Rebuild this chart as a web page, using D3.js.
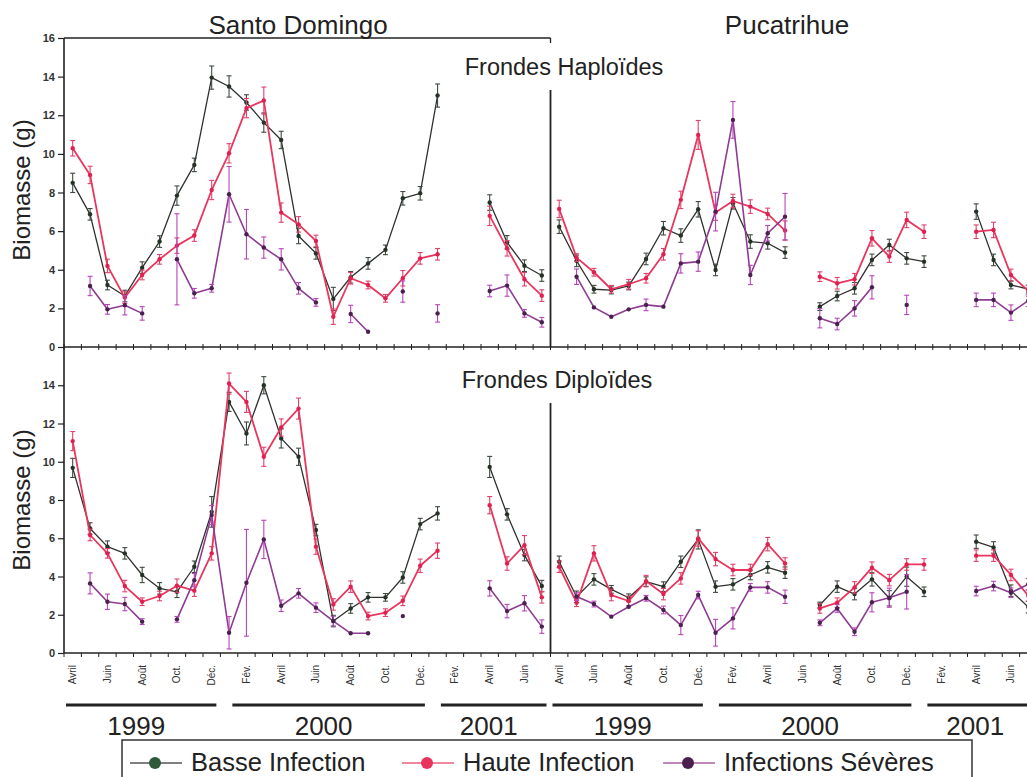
<!DOCTYPE html>
<html>
<head>
<meta charset="utf-8">
<script src="https://cdn.jsdelivr.net/npm/d3@7"></script>
<style>
  body { margin: 0; background: #fff; }
  svg { display: block; }
  text { font-family: "Liberation Sans", Arial, Helvetica, sans-serif; }
</style>
</head>
<body>
<svg id="chart" width="1027" height="777"></svg>
<script>
// ---- Sampling months (Avril 1999 -> Juillet 2001), one per category ----
const months = ["Avril","Mai","Juin","Juil.","Août","Sept.","Oct.","Nov.","Déc.","Janv.","Fév.","Mars",
                "Avril","Mai","Juin","Juil.","Août","Sept.","Oct.","Nov.","Déc.","Janv.","Fév.","Mars",
                "Avril","Mai","Juin","Juil."];
const labelEvery = 2;
const sites = ["Santo Domingo", "Pucatrihue"];
const frondTypes = ["Frondes Haploïdes", "Frondes Diploïdes"];
const seriesNames = ["Basse Infection", "Haute Infection", "Infections Sévères"];
const yearNames = ["1999", "2000", "2001"];
const yearFirstMonth = [0, 9, 21];
const yearLastMonth = [8, 20, 27];
const yTicksTop = [0, 2, 4, 6, 8, 10, 12, 14, 16];
const yTicksBottom = [0, 2, 4, 6, 8, 10, 12, 14];

// ---- Biomass (g), mean and error, Santo Domingo, haploid fronds ----
const sdHapBasse    = [8.5,6.87,3.21,2.64,4.11,5.46,7.84,9.43,13.95,13.49,12.66,11.62,10.72,5.75,4.85,2.49,3.61,4.33,5.03,7.70,7.96,13.02,null,null,7.48,5.42,4.21,3.70];
const sdHapBasseErr = [0.5,0.3,0.25,0.3,0.3,0.3,0.5,0.35,0.6,0.55,0.4,0.5,0.45,0.4,0.3,0.6,0.3,0.3,0.25,0.35,0.35,0.6,null,null,0.4,0.35,0.3,0.3];
const sdHapHaute    = [10.29,8.91,4.2,2.56,3.73,4.54,5.25,5.77,8.13,10.03,12.37,12.76,6.96,6.35,5.49,1.57,3.56,3.21,2.52,3.56,4.59,4.80,null,null,6.79,5.11,3.51,2.66];
const sdHapHauteErr = [0.4,0.45,0.35,0.3,0.25,0.25,0.4,0.3,0.5,0.5,0.5,0.7,0.5,0.4,0.3,0.4,0.3,0.2,0.2,0.4,0.3,0.3,null,null,0.5,0.4,0.35,0.3];
const sdHapSev      = [null,3.16,1.95,2.16,1.74,null,4.54,2.78,3.04,7.91,5.84,5.15,4.54,3.04,2.31,null,1.71,0.79,null,2.87,null,1.74,null,null,2.9,3.18,1.74,1.28];
const sdHapSevErr   = [null,0.5,0.25,0.5,0.35,null,2.36,0.25,0.2,1.44,1.28,0.55,0.55,0.3,0.2,null,0.45,0,null,0.55,null,0.45,null,null,0.3,0.55,0.2,0.25];

// ---- Pucatrihue, haploid fronds ----
const pucHapBasse    = [6.23,4.46,2.99,2.95,3.16,4.56,6.15,5.77,7.13,3.99,7.44,5.46,5.37,4.89,null,2.09,2.64,3.04,4.51,5.28,4.59,4.42,null,null,7.01,4.51,3.21,3.0];
const pucHapBasseErr = [0.35,0.3,0.2,0.2,0.2,0.3,0.35,0.35,0.4,0.3,0.3,0.35,0.3,0.3,null,0.2,0.25,0.3,0.3,0.3,0.3,0.3,null,null,0.4,0.3,0.2,0.2];
const pucHapHaute    = [7.15,4.63,3.87,2.99,3.25,3.56,4.80,7.62,10.98,6.96,7.56,7.27,6.89,6.03,null,3.64,3.30,3.51,5.63,4.68,6.58,5.97,null,null,5.97,6.06,3.73,2.9];
const pucHapHauteErr = [0.45,0.2,0.2,0.2,0.25,0.25,0.3,0.45,0.75,0.4,0.35,0.35,0.3,0.5,null,0.25,0.3,0.3,0.4,0.3,0.4,0.35,null,null,0.35,0.4,0.3,0.3];
const pucHapSev      = [null,3.64,2.05,1.57,1.95,2.18,2.09,4.33,4.42,7.01,11.76,3.73,5.89,6.75,null,1.49,1.19,2.0,3.09,null,2.18,null,null,null,2.44,2.44,1.78,2.4];
const pucHapSevErr   = [null,0.4,0,0,0,0.3,0,0.5,0.5,1.0,0.95,0.5,0.4,1.2,null,0.5,0.3,0.4,0.6,null,0.5,null,null,null,0.35,0.35,0.4,0.3];

// ---- Santo Domingo, diploid fronds ----
const sdDipBasse    = [9.68,6.51,5.56,5.21,4.08,3.38,3.2,4.51,7.38,13.13,11.48,14.0,11.22,10.26,6.43,1.67,2.33,2.91,2.91,3.95,6.74,7.30,null,null,9.73,7.25,5.12,3.50];
const sdDipBasseErr = [0.5,0.3,0.3,0.3,0.4,0.3,0.3,0.3,0.8,0.5,0.6,0.45,0.5,0.45,0.3,0.3,0.25,0.25,0.2,0.3,0.3,0.35,null,null,0.55,0.3,0.3,0.3];
const sdDipHaute    = [11.08,6.17,5.21,3.50,2.68,2.98,3.52,3.26,5.21,14.09,13.13,10.26,11.79,12.78,5.56,2.54,3.47,1.93,2.11,2.73,4.56,5.35,null,null,7.73,4.68,5.64,2.91];
const sdDipHauteErr = [0.5,0.3,0.25,0.3,0.2,0.25,0.35,0.3,0.35,0.55,0.55,0.5,0.45,0.55,0.4,0.3,0.3,0.2,0.2,0.25,0.35,0.4,null,null,0.45,0.35,0.5,0.3];
const sdDipSev      = [null,3.64,2.68,2.56,1.64,null,1.76,3.81,7.21,1.06,3.67,5.94,2.47,3.12,2.37,1.67,1.03,1.03,null,1.93,null,null,null,null,3.38,2.19,2.6,1.38];
const sdDipSevErr   = [null,0.55,0.4,0.35,0.15,null,0.15,0.35,0.5,0.85,2.79,1.0,0.3,0.25,0.25,0.25,0,0,null,0,null,null,null,null,0.4,0.35,0.4,0.35];

// ---- Pucatrihue, diploid fronds ----
const pucDipBasse    = [4.77,2.94,3.85,3.33,2.89,3.73,3.47,4.77,5.94,3.47,3.59,4.08,4.48,4.2,null,2.51,3.47,3.08,3.85,2.86,3.99,3.2,null,null,5.82,5.52,3.26,2.4];
const pucDipBasseErr = [0.3,0.3,0.3,0.2,0.2,0.25,0.25,0.3,0.5,0.3,0.3,0.25,0.3,0.3,null,0.15,0.3,0.3,0.35,0.4,0.5,0.25,null,null,0.35,0.3,0.3,0.3];
const pucDipHaute    = [4.51,2.63,5.21,3.03,2.72,3.76,3.08,3.90,5.99,4.91,4.34,4.34,5.69,4.68,null,2.33,2.63,3.43,4.46,3.81,4.63,4.63,null,null,5.09,5.09,4.08,3.0];
const pucDipHauteErr = [0.3,0.2,0.4,0.3,0.25,0.3,0.3,0.3,0.4,0.35,0.3,0.3,0.35,0.3,null,0.25,0.25,0.3,0.3,0.3,0.3,0.3,null,null,0.3,0.3,0.3,0.3];
const pucDipSev      = [null,2.95,2.56,1.90,2.42,2.86,2.25,1.46,3.03,1.06,1.81,3.43,3.43,2.94,null,1.58,2.33,1.11,2.65,2.89,3.2,null,null,null,3.24,3.5,3.15,3.6];
const pucDipSevErr   = [null,0.2,0.15,0,0,0.15,0.2,0.5,0.2,0.7,0.55,0.2,0.3,0.35,null,0.15,0.2,0.2,0.5,0.5,0.9,null,null,null,0.25,0.25,0.25,0.3];

// ---- Series styling ----
const styles = [
  { line: "#2f312f", err: "#3d4a3f", dot: "#253326", width: 1.3, legendLine: "#555", legendDot: "#2e5a3a" },
  { line: "#e8365e", err: "#e0406a", dot: "#e0204f", width: 1.8, legendLine: "#e8607e", legendDot: "#e8335c" },
  { line: "#8e3c92", err: "#b845b8", dot: "#4a2050", width: 1.6, legendLine: "#a860a8", legendDot: "#4a1f50" }
];

const svg = d3.select("#chart");
svg.append("rect").attr("width", 1027).attr("height", 777).attr("fill", "#fff");

const nMonths = months.length;
const x = d3.scaleBand().domain(d3.range(nMonths * sites.length)).range([64, 1037]);
const cx = i => x(i) + x.bandwidth() / 2;
const yScales = [
  d3.scaleLinear().domain([0, 16]).range([347, 38]),
  d3.scaleLinear().domain([0, 16]).range([653, 347])
];
const axisColor = "#222";

// ---- Frame lines ----
const frame = svg.append("g").attr("stroke", axisColor).attr("fill", "none");
frame.append("line").attr("x1", 64).attr("x2", 64).attr("y1", 38).attr("y2", 653).attr("stroke-width", 1.6);
frame.append("line").attr("x1", 64).attr("x2", 1027).attr("y1", 347).attr("y2", 347).attr("stroke-width", 1.6);
frame.append("line").attr("x1", 64).attr("x2", 1027).attr("y1", 653).attr("y2", 653).attr("stroke-width", 1.6);
frame.append("line").attr("x1", 64).attr("x2", x(nMonths)).attr("y1", 38).attr("y2", 38).attr("stroke-width", 1.3);
frame.append("line").attr("x1", x(nMonths)).attr("x2", x(nMonths)).attr("y1", 38).attr("y2", 43).attr("stroke-width", 1.3);
// second site's vertical axis in each panel
frame.append("line").attr("x1", x(nMonths)).attr("x2", x(nMonths)).attr("y1", 90).attr("y2", 347).attr("stroke-width", 1.8);
frame.append("line").attr("x1", x(nMonths)).attr("x2", x(nMonths)).attr("y1", 403).attr("y2", 653).attr("stroke-width", 1.8);

// ---- Category tick marks ----
const catEdges = d3.range(nMonths * sites.length + 1).map(i => i < nMonths * sites.length ? x(i) : x.range()[1]);
svg.append("g").selectAll("line").data(catEdges).join("line")
  .attr("x1", d => d).attr("x2", d => d).attr("y1", 653).attr("y2", 657)
  .attr("stroke", axisColor).attr("stroke-width", 1);
svg.append("g").selectAll("line").data(catEdges).join("line")
  .attr("x1", d => d).attr("x2", d => d).attr("y1", 344).attr("y2", 350)
  .attr("stroke", axisColor).attr("stroke-width", 1);

// ---- Y axes ----
[yTicksTop, yTicksBottom].forEach((ticks, p) => {
  const g = svg.append("g").attr("transform", "translate(64,0)")
    .call(d3.axisLeft(yScales[p]).tickValues(ticks).tickSize(6).tickSizeOuter(0).tickPadding(3).tickFormat(d3.format("d")));
  g.select(".domain").remove();
  g.selectAll(".tick line").attr("stroke", axisColor).attr("stroke-width", 1.2);
  g.selectAll(".tick text").attr("font-size", 11).attr("font-weight", "bold").attr("fill", "#333")
    .attr("font-family", "'Liberation Sans', Arial, sans-serif");
});

// ---- Month labels ----
const monthTicks = d3.range(nMonths * sites.length).filter(i => (i % nMonths) % labelEvery === 0);
svg.append("g").selectAll("text").data(monthTicks).join("text")
  .attr("transform", i => `translate(${cx(i) + 3.5},665) rotate(-90)`)
  .attr("text-anchor", "end").attr("font-size", 10).attr("fill", "#333")
  .text(i => months[i % nMonths]);

// ---- Year bars and labels ----
sites.forEach((site, s) => {
  yearNames.forEach((yr, k) => {
    const a = x(s * nMonths + yearFirstMonth[k]) + (k === 0 ? 2 : 12);
    const b = x(s * nMonths + yearLastMonth[k]) + x.bandwidth() - 4;
    svg.append("line").attr("x1", a).attr("x2", b).attr("y1", 705).attr("y2", 705)
      .attr("stroke", "#222").attr("stroke-width", 3.2);
    svg.append("text").attr("x", (a + b) / 2 - 5).attr("y", 735).attr("text-anchor", "middle")
      .attr("font-size", 26).attr("fill", "#222").text(yr);
  });
});

// ---- Titles ----
svg.append("text").attr("x", 298).attr("y", 34).attr("text-anchor", "middle").attr("font-size", 26).attr("fill", "#222").text(sites[0]);
svg.append("text").attr("x", 787).attr("y", 34).attr("text-anchor", "middle").attr("font-size", 26).attr("fill", "#222").text(sites[1]);
svg.append("text").attr("x", 564).attr("y", 75).attr("text-anchor", "middle").attr("font-size", 23.5).attr("fill", "#222").text(frondTypes[0]);
svg.append("text").attr("x", 557).attr("y", 388).attr("text-anchor", "middle").attr("font-size", 23.5).attr("fill", "#222").text(frondTypes[1]);
[190, 500].forEach(cy => {
  svg.append("text").attr("transform", `translate(30,${cy}) rotate(-90)`).attr("text-anchor", "middle")
    .attr("font-size", 24).attr("fill", "#222").text("Biomasse (g)");
});

// ---- Data series ----
const panelData = [
  [ [[sdHapBasse, sdHapBasseErr], [sdHapHaute, sdHapHauteErr], [sdHapSev, sdHapSevErr]],
    [[pucHapBasse, pucHapBasseErr], [pucHapHaute, pucHapHauteErr], [pucHapSev, pucHapSevErr]] ],
  [ [[sdDipBasse, sdDipBasseErr], [sdDipHaute, sdDipHauteErr], [sdDipSev, sdDipSevErr]],
    [[pucDipBasse, pucDipBasseErr], [pucDipHaute, pucDipHauteErr], [pucDipSev, pucDipSevErr]] ]
];

panelData.forEach((panel, p) => {
  const y = yScales[p];
  panel.forEach((siteSeries, s) => {
    siteSeries.forEach(([vals, errs], k) => {
      const st = styles[k];
      const pts = vals.map((v, i) => ({ i: s * nMonths + i, v, e: errs[i] }));
      const g = svg.append("g");
      const line = d3.line().defined(d => d.v != null).x(d => cx(d.i)).y(d => y(d.v));
      g.append("path").datum(pts).attr("d", line).attr("fill", "none")
        .attr("stroke", st.line).attr("stroke-width", st.width).attr("stroke-linejoin", "round");
      const valid = pts.filter(d => d.v != null);
      const eb = g.append("g").attr("stroke", st.err).attr("stroke-width", 1.1);
      valid.filter(d => d.e > 0).forEach(d => {
        const x0 = cx(d.i), yHi = y(d.v + d.e), yLo = y(d.v - d.e);
        eb.append("line").attr("x1", x0).attr("x2", x0).attr("y1", yHi).attr("y2", yLo);
        eb.append("line").attr("x1", x0 - 2.5).attr("x2", x0 + 2.5).attr("y1", yHi).attr("y2", yHi);
        eb.append("line").attr("x1", x0 - 2.5).attr("x2", x0 + 2.5).attr("y1", yLo).attr("y2", yLo);
      });
      g.append("g").selectAll("circle").data(valid).join("circle")
        .attr("cx", d => cx(d.i)).attr("cy", d => y(d.v)).attr("r", 2.2).attr("fill", st.dot);
    });
  });
});

// ---- Legend ----
const legend = svg.append("g");
legend.append("rect").attr("x", 122).attr("y", 740).attr("width", 850).attr("height", 70)
  .attr("fill", "#fff").attr("stroke", "#333").attr("stroke-width", 1.5);
const legendX = [130, 402, 663];
seriesNames.forEach((name, k) => {
  const st = styles[k];
  const lx = legendX[k];
  legend.append("line").attr("x1", lx).attr("x2", lx + 52).attr("y1", 763).attr("y2", 763)
    .attr("stroke", st.legendLine).attr("stroke-width", 1.5);
  legend.append("circle").attr("cx", lx + 25).attr("cy", 763).attr("r", 6).attr("fill", st.legendDot);
  legend.append("text").attr("x", lx + 61).attr("y", 771).attr("font-size", 25.5).attr("fill", "#222").text(name);
});
</script>
</body>
</html>
